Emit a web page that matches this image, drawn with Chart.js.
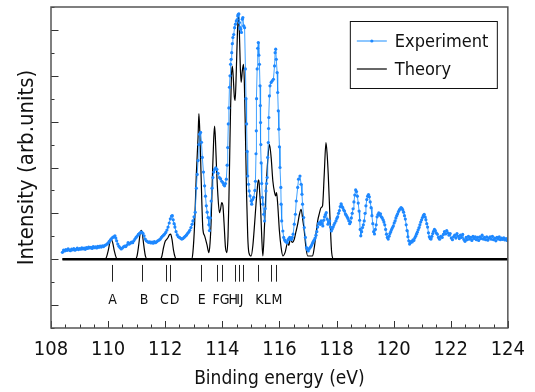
<!DOCTYPE html>
<html>
<head>
<meta charset="utf-8">
<script src="https://cdn.jsdelivr.net/npm/chart.js@4"></script>
<style>
  html, body { margin: 0; padding: 0; background: #fff; }
  #chart { display: block; }
</style>
</head>
<body>
<canvas id="chart" width="535" height="392"></canvas>
<script>
// Experiment: binding energy (eV) / intensity (arb. units)
var expEnergy = [
  // 108.4 - 110
  108.40, 108.44, 108.48, 108.52, 108.56, 108.60, 108.64, 108.68, 108.72, 108.76,
  108.80, 108.84, 108.88, 108.92, 108.96, 109.00, 109.04, 109.08, 109.12, 109.16,
  109.20, 109.24, 109.28, 109.32, 109.36, 109.40, 109.44, 109.48, 109.52, 109.56,
  109.60, 109.64, 109.68, 109.72, 109.76, 109.80, 109.84, 109.88, 109.92, 109.96,
  // 110 - 113
  110.00, 110.04, 110.08, 110.12, 110.16, 110.20, 110.24, 110.27, 110.30, 110.34,
  110.38, 110.42, 110.46, 110.50, 110.54, 110.58, 110.62, 110.66, 110.70, 110.74,
  110.78, 110.82, 110.86, 110.90, 110.94, 110.98, 111.02, 111.06, 111.10, 111.14,
  111.18, 111.22, 111.26, 111.30, 111.34, 111.38, 111.42, 111.46, 111.50, 111.54,
  111.58, 111.62, 111.66, 111.70, 111.74, 111.78, 111.82, 111.86, 111.90, 111.94,
  111.98, 112.02, 112.06, 112.10, 112.14, 112.18, 112.22, 112.25, 112.28, 112.31,
  112.34, 112.38, 112.42, 112.46, 112.50, 112.54, 112.58, 112.62, 112.66, 112.70,
  112.74, 112.78, 112.82, 112.86, 112.90, 112.94, 112.97,
  // 113 - 116.1
  113.01, 113.05, 113.09, 113.12, 113.15, 113.18, 113.20, 113.24, 113.27, 113.30,
  113.34, 113.38, 113.41, 113.44, 113.47, 113.50, 113.53, 113.55, 113.58, 113.61,
  113.64, 113.67, 113.70, 113.73, 113.77, 113.81, 113.85, 113.90, 113.94, 113.98,
  114.02, 114.05, 114.08, 114.11, 114.14, 114.17, 114.19, 114.21, 114.23, 114.25,
  114.27, 114.29, 114.31, 114.33, 114.35, 114.37, 114.40, 114.43, 114.46, 114.49,
  114.52, 114.54, 114.56, 114.58, 114.60, 114.62, 114.64, 114.67, 114.70, 114.72,
  114.75, 114.78, 114.81, 114.83, 114.85, 114.87, 114.89, 114.92, 114.94, 114.97,
  115.01, 115.03, 115.06, 115.10, 115.14, 115.16, 115.18, 115.19, 115.20, 115.22,
  115.24, 115.26, 115.28, 115.30, 115.32, 115.33, 115.34, 115.35, 115.36, 115.38,
  115.40, 115.42, 115.45, 115.48, 115.50, 115.53, 115.55, 115.57, 115.59, 115.61,
  115.62, 115.63, 115.65, 115.67, 115.71, 115.75, 115.79, 115.83, 115.85, 115.87,
  115.89, 115.92, 115.94, 115.96, 115.98, 116.00, 116.02, 116.05, 116.06, 116.08,
  // 116.1 - 118
  116.12, 116.15, 116.18, 116.21, 116.24, 116.27, 116.30, 116.33, 116.36, 116.39,
  116.42, 116.45, 116.48, 116.52, 116.56, 116.59, 116.64, 116.67, 116.72, 116.76,
  116.79, 116.81, 116.85, 116.87, 116.91, 116.95, 116.98, 117.01, 117.04, 117.07,
  117.10, 117.13, 117.16, 117.19, 117.22, 117.25, 117.28, 117.31, 117.34, 117.37,
  117.40, 117.43, 117.46, 117.49, 117.52, 117.55, 117.58, 117.61, 117.64, 117.67,
  117.70, 117.73, 117.76, 117.79, 117.82, 117.85, 117.88, 117.91, 117.94,
  // 118 - 121.5
  117.98, 118.01, 118.04, 118.07, 118.10, 118.13, 118.16, 118.19, 118.22, 118.25,
  118.28, 118.31, 118.34, 118.37, 118.40, 118.43, 118.46, 118.49, 118.52, 118.55,
  118.58, 118.61, 118.64, 118.67, 118.70, 118.73, 118.76, 118.79, 118.81, 118.83,
  118.85, 118.88, 118.91, 118.94, 118.97, 119.00, 119.03, 119.06, 119.09, 119.12,
  119.15, 119.18, 119.21, 119.24, 119.27, 119.30, 119.33, 119.36, 119.39, 119.42,
  119.45, 119.48, 119.51, 119.54, 119.57, 119.60, 119.63, 119.66, 119.69, 119.72,
  119.75, 119.78, 119.81, 119.84, 119.87, 119.90, 119.93, 119.96, 119.99, 120.02,
  120.05, 120.08, 120.11, 120.14, 120.17, 120.20, 120.23, 120.26, 120.29, 120.32,
  120.35, 120.38, 120.41, 120.44, 120.47, 120.50, 120.53, 120.56, 120.59, 120.62,
  120.65, 120.68, 120.71, 120.74, 120.77, 120.80, 120.83, 120.86, 120.89, 120.92,
  120.95, 120.98, 121.01, 121.04, 121.07, 121.10, 121.13, 121.16, 121.19, 121.22,
  121.25, 121.28, 121.31, 121.34, 121.37, 121.40, 121.43, 121.46, 121.49,
  // 121.5 - 124
  121.53, 121.57, 121.61, 121.65, 121.70, 121.74, 121.78, 121.82, 121.86, 121.90,
  121.94, 121.98, 122.02, 122.06, 122.10, 122.14, 122.18, 122.22, 122.26, 122.30,
  122.34, 122.38, 122.42, 122.46, 122.50, 122.54, 122.58, 122.62, 122.66, 122.70,
  122.74, 122.78, 122.82, 122.86, 122.90, 122.94, 122.98, 123.02, 123.06, 123.10,
  123.14, 123.18, 123.22, 123.26, 123.30, 123.34, 123.38, 123.42, 123.46, 123.50,
  123.54, 123.58, 123.62, 123.66, 123.70, 123.74, 123.78, 123.82, 123.86, 123.90,
  123.94, 123.98, 124.00
];
var expIntensity = [
  // 108.4 - 110
  0.30, 0.40, 0.36, 0.42, 0.38, 0.45, 0.40, 0.37, 0.44, 0.41,
  0.46, 0.39, 0.43, 0.48, 0.42, 0.46, 0.44, 0.50, 0.45, 0.48,
  0.43, 0.51, 0.47, 0.53, 0.49, 0.52, 0.47, 0.55, 0.50, 0.54,
  0.49, 0.56, 0.52, 0.57, 0.53, 0.58, 0.55, 0.60, 0.62, 0.66,
  // 110 - 113
  0.70, 0.78, 0.84, 0.90, 0.95, 0.98, 1.02, 0.92, 0.80, 0.66,
  0.56, 0.50, 0.45, 0.49, 0.54, 0.57, 0.55, 0.62, 0.72, 0.66,
  0.70, 0.75, 0.72, 0.80, 0.88, 0.95, 1.01, 1.08, 1.13, 1.17,
  1.18, 1.13, 1.02, 0.88, 0.80, 0.77, 0.73, 0.76, 0.71, 0.75,
  0.70, 0.77, 0.72, 0.76, 0.80, 0.83, 0.87, 0.94, 1.00, 1.05,
  1.10, 1.17, 1.27, 1.40, 1.58, 1.76, 1.88, 1.90, 1.72, 1.55,
  1.40, 1.20, 1.06, 0.98, 0.95, 0.91, 0.88, 0.90, 0.95, 1.00,
  1.05, 1.12, 1.18, 1.26, 1.38, 1.52, 1.67,
  // 113 - 116.1
  1.85, 2.05, 3.10, 3.70, 4.30, 5.00, 5.45, 5.53, 5.10, 4.44,
  3.80, 3.20, 2.75, 2.33, 2.05, 1.82, 1.50, 1.25, 1.80, 2.54,
  3.10, 3.56, 3.80, 3.92, 3.98, 3.92, 3.75, 3.56, 3.50, 3.40,
  3.34, 3.25, 3.20, 3.30, 3.49, 4.10, 4.87, 5.90, 6.60, 7.50,
  8.00, 8.50, 8.72, 9.01, 9.40, 9.67, 9.80, 10.10, 10.25, 10.39,
  10.45, 10.61, 10.68, 10.70, 10.32, 10.10, 10.03, 9.89, 10.47, 10.54,
  10.18, 10.10, 8.30, 7.00, 5.90, 4.70, 3.63, 3.27, 2.98, 2.76,
  2.54, 2.40, 2.60, 2.70, 3.00, 3.40, 4.60, 5.60, 7.00, 8.30,
  9.20, 9.45, 8.90, 8.50, 7.56, 6.70, 5.96, 5.00, 4.20, 3.30,
  2.70, 2.40, 1.96, 1.67, 2.20, 2.98, 3.30, 3.56, 4.44, 5.09,
  5.70, 6.18, 7.12, 7.56, 7.71, 7.78, 7.85, 8.43, 9.01, 9.16,
  8.72, 8.14, 7.27, 6.47, 5.67, 4.90, 4.00, 3.13, 2.40, 1.67,
  // 116.1 - 118
  1.23, 0.95, 0.85, 0.78, 0.75, 0.72, 0.85, 0.90, 0.95, 0.88,
  0.86, 0.95, 1.09, 1.53, 1.96, 2.54, 3.13, 3.49, 3.63, 3.27,
  2.83, 2.40, 1.82, 1.38, 0.95, 0.51, 0.42, 0.36, 0.45, 0.50,
  0.55, 0.62, 0.70, 0.78, 0.85, 0.92, 1.05, 1.20, 1.40, 1.55,
  1.60, 1.52, 1.67, 1.55, 1.45, 1.70, 1.85, 1.95, 2.03, 1.75,
  1.53, 1.60, 1.67, 1.40, 1.23, 1.32, 1.40, 1.50, 1.58,
  // 118 - 121.5
  1.67, 1.78, 1.85, 2.00, 2.12, 2.30, 2.42, 2.30, 2.25, 2.15,
  2.10, 1.98, 1.92, 1.85, 1.78, 1.68, 1.55, 1.62, 1.80, 2.00,
  2.20, 2.50, 2.80, 3.02, 2.95, 2.75, 2.45, 2.10, 1.70, 1.30,
  1.02, 1.20, 1.38, 1.50, 1.67, 2.00, 2.33, 2.60, 2.75, 2.82,
  2.72, 2.50, 2.25, 1.90, 1.55, 1.20, 1.10, 1.30, 1.50, 1.85,
  1.95, 2.02, 1.92, 1.98, 1.85, 1.80, 1.72, 1.62, 1.50, 1.30,
  1.09, 0.95, 0.88, 1.00, 1.12, 1.20, 1.30, 1.38, 1.45, 1.58,
  1.67, 1.80, 1.90, 1.98, 2.08, 2.15, 2.20, 2.25, 2.22, 2.15,
  2.05, 1.90, 1.75, 1.50, 1.25, 0.98, 0.80, 0.66, 0.72, 0.78,
  0.75, 0.85, 0.82, 0.92, 1.00, 1.09, 1.18, 1.28, 1.38, 1.50,
  1.62, 1.72, 1.82, 1.90, 1.96, 1.85, 1.72, 1.55, 1.40, 1.15,
  0.98, 0.90, 0.88, 1.00, 1.12, 1.22, 1.30, 1.25, 1.15,
  // 121.5 - 124
  1.09, 0.95, 0.87, 1.00, 0.95, 1.08, 1.20, 1.10, 1.25, 1.15,
  1.05, 1.12, 0.92, 0.85, 0.98, 1.05, 0.92, 1.12, 1.00, 0.90,
  1.05, 0.95, 1.08, 0.86, 0.78, 0.95, 0.85, 1.00, 0.88, 0.95,
  0.82, 1.00, 0.90, 0.98, 0.85, 0.95, 0.82, 0.98, 0.90, 1.05,
  0.88, 0.95, 0.85, 0.97, 0.83, 0.92, 0.98, 0.87, 1.00, 0.85,
  0.92, 0.80, 0.95, 0.88, 0.97, 0.85, 0.92, 0.86, 0.93, 0.84,
  0.90, 0.82, 0.80
];

// Theory curve
var theoryEnergy = [
  108.40, 109.88, 109.94, 110.00, 110.06, 110.11, 110.16, 110.22, 110.28, 110.34,
  110.95, 111.01, 111.07, 111.12, 111.16, 111.20, 111.25, 111.31, 111.37,
  111.82, 111.88, 111.94, 112.00, 112.05, 112.10, 112.15, 112.19, 112.24, 112.29, 112.35, 112.41,
  112.92, 112.97, 113.03, 113.09, 113.15, 113.18, 113.21, 113.24, 113.28, 113.32, 113.38, 113.46, 113.53,
  113.57, 113.61, 113.66, 113.70, 113.73, 113.76, 113.80, 113.84, 113.90, 113.94, 113.98, 114.02, 114.06, 114.11, 114.16,
  114.20, 114.23, 114.26, 114.29, 114.32, 114.35, 114.38, 114.42, 114.45, 114.49, 114.53, 114.57, 114.60, 114.63, 114.66,
  114.70, 114.74, 114.77, 114.81, 114.85, 114.89, 114.93,
  115.01, 115.07, 115.13, 115.18, 115.22, 115.26, 115.28, 115.31, 115.34, 115.38, 115.42,
  115.48, 115.53, 115.59, 115.65, 115.71, 115.77, 115.83, 115.87, 115.90, 115.94, 116.00, 116.06, 116.12,
  116.20, 116.29, 116.33, 116.38, 116.46, 116.52, 116.58, 116.64, 116.70, 116.76, 116.82, 116.87, 116.93, 116.99,
  117.16, 117.22, 117.28, 117.34, 117.40, 117.46, 117.51, 117.57, 117.63, 117.67, 117.71, 117.78, 117.83, 117.90, 124.00
];
var theoryIntensity = [
  0, 0, 0.08, 0.35, 0.72, 0.87, 0.72, 0.35, 0.08, 0,
  0, 0.12, 0.60, 1.10, 1.26, 1.10, 0.60, 0.12, 0,
  0, 0.12, 0.50, 0.78, 0.86, 0.95, 1.07, 1.09, 0.85, 0.40, 0.08, 0,
  0, 0.30, 1.53, 3.70, 5.30, 6.35, 5.60, 4.40, 2.60, 1.31, 1.02, 0.65, 0.29,
  0.70, 1.70, 3.90, 5.30, 5.81, 5.20, 3.90, 2.90, 2.03, 2.20, 2.47, 2.35, 1.60, 0.52, 0.29,
  1.00, 2.55, 4.60, 6.60, 8.00, 8.42, 8.00, 7.10, 6.93, 8.20, 9.90, 10.68, 9.80, 8.40, 7.72,
  8.20, 8.50, 7.80, 5.45, 2.80, 1.00, 0.29,
  0.14, 0.60, 1.53, 2.40, 3.00, 3.45, 3.45, 2.90, 2.27, 1.00, 0.14,
  1.53, 2.98, 4.29, 5.01, 4.44, 3.41, 2.91, 2.76, 2.91, 2.40, 1.23, 0.51, 0.14,
  0.30, 0.73, 0.60, 0.87, 0.73, 0.87, 1.20, 1.53, 1.95, 2.18, 1.70, 1.23, 0.50, 0.14,
  0.14, 0.50, 1.09, 1.67, 2.00, 2.25, 2.33, 3.70, 5.09, 4.60, 3.70, 1.53, 0.29, 0, 0
];

// Assigned peaks: letter, line position, label position
var peakLetters = ["A", "B", "C", "D", "E", "F", "G", "H", "I", "J", "K", "L", "M"];
var peakEnergies = [110.12, 111.19, 112.04, 112.18, 113.24, 113.80, 113.98, 114.43, 114.57, 114.72, 115.24, 115.69, 115.88];
var peakLabelEnergies = [110.16, 111.26, 111.97, 112.33, 113.28, 113.78, 114.08, 114.38, 114.55, 114.68, 115.30, 115.57, 115.91];

var xTickValues = [108, 110, 112, 114, 116, 118, 120, 122, 124];
var yTickValues = [-3, -2, -1, 0, 1, 2, 3, 4, 5, 6, 7, 8, 9, 10, 11];

var FONT = "'DejaVu Sans Condensed', 'DejaVu Sans', sans-serif";
Chart.defaults.font.family = FONT;
Chart.defaults.color = "#111";

function toPoints(xs, ys) {
  return xs.map(function (x, i) {
    return { x: x, y: ys[i] };
  });
}

// inward ticks, frame, peak markers and the boxed legend
var decorations = {
  id: "decorations",
  afterDraw: function (chart) {
    var ctx = chart.ctx;
    var a = chart.chartArea;
    var xs = chart.scales.x;
    var ys = chart.scales.y;

    ctx.save();
    ctx.strokeStyle = "#333";
    ctx.lineWidth = 1;
    ctx.beginPath();
    for (var v = xTickValues[0]; v <= xTickValues[xTickValues.length - 1]; v += 0.5) {
      var px = Math.round(xs.getPixelForValue(v)) + 0.5;
      var len = xTickValues.indexOf(v) >= 0 ? 7 : 3.5;
      ctx.moveTo(px, a.bottom);
      ctx.lineTo(px, a.bottom - len);
    }
    yTickValues.forEach(function (t) {
      var py = Math.round(ys.getPixelForValue(t)) + 0.5;
      var len = t % 2 === 0 ? 7.5 : 3.5;
      ctx.moveTo(a.left, py);
      ctx.lineTo(a.left + len, py);
    });
    ctx.stroke();

    // frame
    ctx.strokeStyle = "#555";
    ctx.lineWidth = 1.5;
    ctx.strokeRect(a.left, a.top, a.right - a.left, a.bottom - a.top);

    // peak markers
    ctx.strokeStyle = "#222";
    ctx.lineWidth = 1;
    ctx.fillStyle = "#111";
    ctx.font = "14px " + FONT;
    ctx.textAlign = "center";
    ctx.textBaseline = "middle";
    ctx.beginPath();
    peakEnergies.forEach(function (e, i) {
      var px = Math.round(xs.getPixelForValue(e)) + 0.5;
      ctx.moveTo(px, ys.getPixelForValue(-0.25));
      ctx.lineTo(px, ys.getPixelForValue(-0.98));
      ctx.fillText(peakLetters[i], xs.getPixelForValue(peakLabelEnergies[i]), ys.getPixelForValue(-1.8));
    });
    ctx.stroke();

    // legend
    var lx = a.right - 158, ly = a.top + 14, lw = 147, lh = 67;
    ctx.fillStyle = "#fff";
    ctx.fillRect(lx, ly, lw, lh);
    ctx.strokeStyle = "#111";
    ctx.lineWidth = 1;
    ctx.strokeRect(lx + 0.5, ly + 0.5, lw, lh);
    ctx.font = "18px " + FONT;
    ctx.textAlign = "left";
    var items = chart.data.datasets.filter(function (d) { return d.label; });
    items.forEach(function (d, i) {
      var y = ly + 20 + i * 28;
      ctx.strokeStyle = d.borderColor;
      ctx.lineWidth = 1.2;
      ctx.beginPath();
      ctx.moveTo(lx + 7, y);
      ctx.lineTo(lx + 37, y);
      ctx.stroke();
      if (d.pointRadius > 0) {
        ctx.fillStyle = d.pointBackgroundColor;
        ctx.beginPath();
        ctx.arc(lx + 22, y, d.pointRadius, 0, Math.PI * 2);
        ctx.fill();
      }
      ctx.fillStyle = "#111";
      ctx.fillText(d.label, lx + 45, y + 1);
    });
    ctx.restore();
  },
};

var ctx = document.getElementById("chart").getContext("2d");
var chart = new Chart(ctx, {
  type: "line",
  data: {
    datasets: [
      {
        label: "Experiment",
        data: toPoints(expEnergy, expIntensity),
        borderColor: "rgba(30, 144, 255, 0.85)",
        pointBackgroundColor: "#1e88ff",
        borderWidth: 1,
        pointRadius: 1.6,
        pointBorderWidth: 0,
        pointHoverRadius: 0,
      },
      {
        label: "Theory",
        data: toPoints(theoryEnergy, theoryIntensity),
        borderColor: "#000",
        borderWidth: 1.2,
        pointRadius: 0,
        cubicInterpolationMode: "monotone",
      },
      {
        // zero line under the theory peaks
        label: "",
        data: toPoints([theoryEnergy[0], theoryEnergy[theoryEnergy.length - 1]], [0, 0]),
        borderColor: "#000",
        borderWidth: 2.5,
        pointRadius: 0,
      },
    ],
  },
  options: {
    responsive: false,
    animation: false,
    devicePixelRatio: 1,
    layout: { padding: { top: 7, right: 26, left: 0, bottom: 0 } },
    plugins: {
      legend: { display: false },
      tooltip: { enabled: false },
    },
    scales: {
      x: {
        type: "linear",
        min: 108,
        max: 124,
        afterBuildTicks: function (scale) {
          scale.ticks = xTickValues.map(function (v) { return { value: v }; });
        },
        afterFit: function (scale) {
          scale.height = 64;
        },
        grid: { display: false, drawTicks: false },
        border: { display: false },
        ticks: { font: { size: 20 }, color: "#111", padding: 10, maxRotation: 0 },
        title: {
          display: true,
          text: "Binding energy (eV)",
          font: { size: 19 },
          color: "#111",
          padding: { top: 0, bottom: 2 },
        },
      },
      y: {
        type: "linear",
        min: -3,
        max: 11,
        afterFit: function (scale) {
          scale.width = 51;
        },
        grid: { display: false, drawTicks: false },
        border: { display: false },
        ticks: { display: false },
        title: {
          display: true,
          text: "Intensity (arb.units)",
          font: { size: 22 },
          color: "#111",
          padding: { top: 14, bottom: 0 },
        },
      },
    },
  },
  plugins: [decorations],
});
</script>
</body>
</html>
